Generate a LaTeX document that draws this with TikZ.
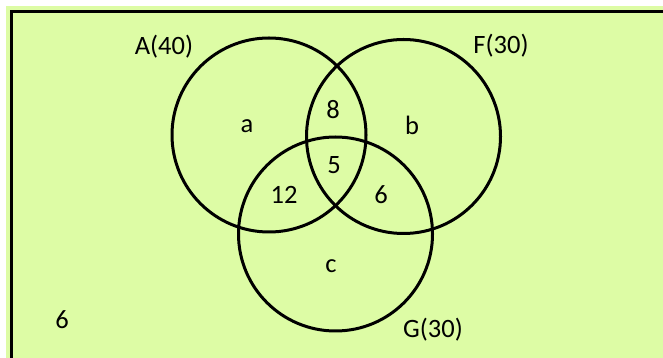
\documentclass[tikz,border=0pt]{standalone}
\usepackage{fontspec}
\setmainfont{Carlito}
\definecolor{venngreen}{RGB}{221,252,165}

\begin{document}
\begin{tikzpicture}[x=1pt, y=1pt, line width=3pt,
    setcirc/.style={circle, draw, minimum size=194pt, inner sep=0pt},
    lbl/.style={inner sep=0pt, font=\fontsize{26.5}{30}\selectfont}]
  \useasboundingbox (0,0) rectangle (663,358);
  % Universe box, running off the right and bottom edges.
  \fill[venngreen] (6,0) rectangle (663,352);
  \draw[line width=3.5pt] (11.5,-10) -- (11.5,346.5) -- (680,346.5);
  % The three sets.
  \node[setcirc] (A) at (269,223) {};
  \node[setcirc] (F) at (403.5,221.5) {};
  \node[setcirc] (G) at (335.5,124) {};
  % Set names.
  \node[lbl] (nameA) at (164,311) {A(40)};
  \node[lbl] (nameF) at (501,312) {F(30)};
  \node[lbl] (nameG) at (433,28) {G(30)};
  % Region counts.
  \node[lbl] (onlyA) at (247,232) {a};
  \node[lbl] (onlyF) at (412,233) {b};
  \node[lbl] (onlyG) at (331,92) {c};
  \node[lbl] (AF) at (333,248) {8};
  \node[lbl] (AFG) at (334,193) {5};
  \node[lbl] (AG) at (284,163) {12};
  \node[lbl] (FG) at (381,163) {6};
  \node[lbl] (none) at (62,38) {6};
\end{tikzpicture}
\end{document}
